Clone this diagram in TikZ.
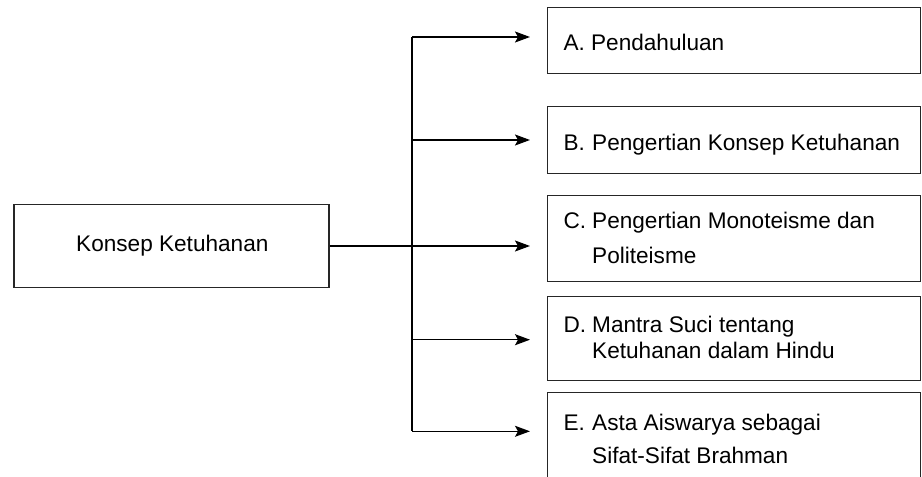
\documentclass[tikz,border=0pt]{standalone}
\usepackage{fontspec}
\setmainfont{Liberation Sans}
\usetikzlibrary{arrows.meta,calc}
\begin{document}
\begin{tikzpicture}[x=1pt,y=-1pt,
  box/.style={draw=black!85,line width=1.1pt,rectangle,inner sep=0pt},
  txt/.style={anchor=base west,inner sep=0pt,font=\fontsize{22.6}{26}\selectfont},
  link/.style={line width=1.3pt},
  arr/.style={link,-{Stealth[length=15pt,width=11pt,inset=3pt]}}]
\clip (0,0) rectangle (922,477);
\useasboundingbox (0,0) rectangle (922,477);

% root box
\node[box,minimum width=315pt,minimum height=83.5pt] (root) at (171.5,246) {};
\node[txt] (rootT) at (76,251.7) {Konsep Ketuhanan};

% topic boxes
\node[box,minimum width=373pt,minimum height=66pt] (bA) at (734.2,40.3) {};
\node[box,minimum width=373pt,minimum height=67.3pt] (bB) at (734.2,139.7) {};
\node[box,minimum width=373pt,minimum height=86.3pt] (bC) at (734.2,238.2) {};
\node[box,minimum width=373pt,minimum height=84pt] (bD) at (734.2,338.3) {};
\node[box,minimum width=373pt,minimum height=110pt] (bE) at (734.2,447.7) {};

% topic labels with hanging indent
\node[txt] (tA) at (563.3,50.7) {A. Pendahuluan};
\node[txt] (tB) at (563.3,150) {B.};
\node[txt] (tB2) at (592,150) {Pengertian Konsep Ketuhanan};
\node[txt] (tC) at (563.3,228.3) {C.};
\node[txt] (tC2) at (592,228.3) {Pengertian Monoteisme dan};
\node[txt] (tC3) at (592,263.7) {Politeisme};
\node[txt] (tD) at (563.3,332) {D.};
\node[txt] (tD2) at (592,332) {Mantra Suci tentang};
\node[txt] (tD3) at (592,358.7) {Ketuhanan dalam Hindu};
\node[txt] (tE) at (563.3,430.3) {E.};
\node[txt] (tE2) at (592,430.3) {Asta Aiswarya sebagai};
\node[txt] (tE3) at (592,463.7) {Sifat-Sifat Brahman};

% trunk points and arrow tips
\coordinate (sA) at (412,37);
\coordinate (sB) at (412,140);
\coordinate (sC) at (412,246);
\coordinate (sD) at (412,339.7);
\coordinate (sE) at (412,431.3);
\coordinate (eA) at (530,37);
\coordinate (eB) at (530,140);
\coordinate (eC) at (530,246);
\coordinate (eD) at (530,339.7);
\coordinate (eE) at (530,431.3);

% connectors
\draw[link] (sA) -- (sE);
\draw[link] (root.east) -- (sC);
\draw[arr] (sA) -- (eA);
\draw[arr] (sB) -- (eB);
\draw[arr] (sC) -- (eC);
\draw[arr] (sD) -- (eD);
\draw[arr] (sE) -- (eE);
\end{tikzpicture}
\end{document}
